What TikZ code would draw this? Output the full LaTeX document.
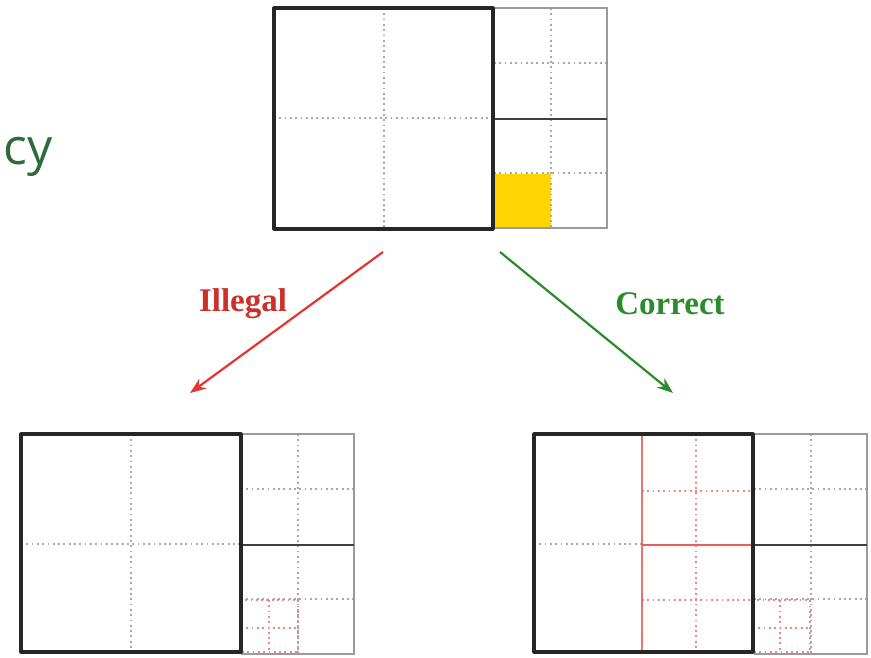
\documentclass[tikz,border=0pt]{standalone}
\usepackage{fontspec}
\setmainfont{Liberation Serif}
\newfontfamily\cysans{Open Sans}
\usetikzlibrary{arrows.meta}
\definecolor{cyg}{HTML}{2F6A3C}
\definecolor{illred}{HTML}{E43530}
\definecolor{corgreen}{HTML}{2A8C2A}
\definecolor{gold}{HTML}{FFD400}
\definecolor{lgray}{HTML}{A8A8A8}
\definecolor{dgray}{HTML}{9A9A9A}
\tikzset{
  bigsq/.style={draw=black!85, line width=3.2pt, line join=round},
  outer/.style={draw=dgray, line width=1.6pt},
  midline/.style={draw=black!75, line width=1.6pt},
  dots/.style={draw=lgray, line width=1.3pt, dash pattern=on 1.8pt off 3.5pt},
  rdots/.style={draw=illred!60, line width=1.1pt, dash pattern=on 1.8pt off 3.5pt},
  redbox/.style={draw=illred!70, line width=1.6pt},
  arr/.style={line width=2.2pt, -{Stealth[length=16pt,width=12pt]}},
  lab/.style={font=\fontsize{33}{36}\selectfont\bfseries}
}
\newcommand\qbase{%
  \draw[dots] (277,0) -- (277,220);
  \draw[dots] (220,55) -- (333,55);
  \draw[dots] (220,165) -- (333,165);
  \draw[outer] (220,0) -- (333,0) -- (333,220) -- (220,220);
  \draw[midline] (220,111) -- (333,111);
}
\begin{document}
\begin{tikzpicture}[x=1pt,y=-1pt]
\useasboundingbox (0,0) rectangle (871,657);

\node[anchor=base east, text=cyg, inner sep=0pt, font=\cysans\fontsize{50}{54}\selectfont] (cy) at (53,164) {cy};

% top diagram
\begin{scope}[shift={(274,8)}]
  \fill[gold] (220,166) rectangle (277,221);
  \draw[dots] (110,0) -- (110,220);
  \draw[dots] (0,110) -- (220,110);
  \qbase
  \draw[bigsq] (0,0) rectangle (219,221);
  \coordinate (topL) at (109,244);
  \coordinate (topR) at (226,244);
\end{scope}

% bottom-left diagram
\begin{scope}[shift={(21,434)}]
  \draw[dots] (110,0) -- (110,218);
  \draw[dots] (0,110) -- (220,110);
  \qbase
  \draw[rdots] (220,166) rectangle (277,218);
  \draw[rdots] (248,166) -- (248,218);
  \draw[rdots] (220,194) -- (277,194);
  \draw[bigsq] (0,0) rectangle (220,218);
\end{scope}

% bottom-right diagram
\begin{scope}[shift={(534,434)}]
  \draw[dots] (0,110) -- (108,110);
  \qbase
  \draw[rdots] (162,0) -- (162,218);
  \draw[rdots] (108,57) -- (220,57);
  \draw[rdots] (108,166) -- (220,166);
  \draw[redbox] (108,0) rectangle (219,218);
  \draw[illred!80, line width=2.4pt] (108,111) -- (219,111);
  \draw[rdots] (219,166) rectangle (276,218);
  \draw[rdots] (246,166) -- (246,218);
  \draw[rdots] (219,194) -- (276,194);
  \draw[bigsq] (0,0) rectangle (219,218);
\end{scope}

\coordinate (illEnd) at (190,393);
\coordinate (corEnd) at (673,393);
\draw[arr, illred] (topL) -- (illEnd);
\draw[arr, corgreen] (topR) -- (corEnd);

\node[lab, text=illred!90!black] (ill) at (243,304) {Illegal};
\node[lab, text=corgreen] (cor) at (670,304) {Correct};
\end{tikzpicture}
\end{document}
